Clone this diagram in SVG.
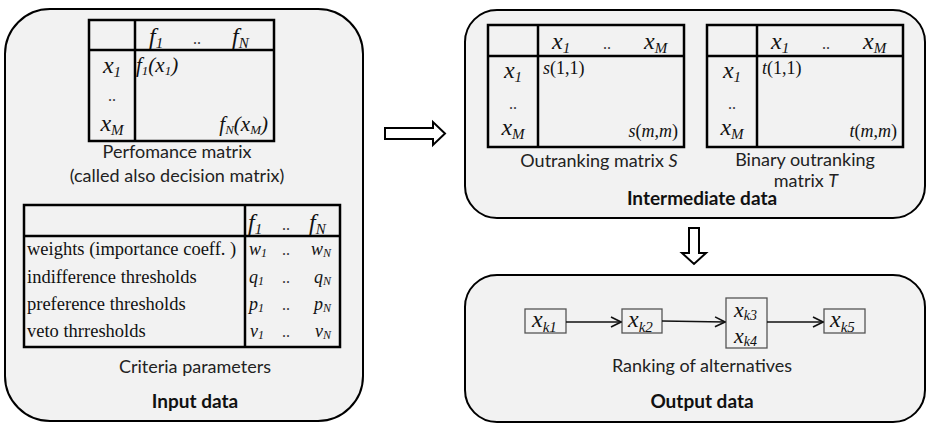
<svg xmlns="http://www.w3.org/2000/svg" width="927" height="425" viewBox="0 0 927 425">
  <style>
    .panel { fill: #f2f2f2; stroke: #000; stroke-width: 2; }
    .grid { fill: none; stroke: #000; stroke-width: 2.5; }
    .rank { fill: #f2f2f2; stroke: #555; stroke-width: 1.3; }
    .block { fill: #fff; stroke: #000; stroke-width: 2; stroke-linejoin: miter; }
    .link { fill: none; stroke: #111; stroke-width: 1.6; }
    .m { font-family: "Liberation Serif", "Times New Roman", serif; font-style: italic; font-size: 24px; fill: #111; }
    .mr { font-family: "Liberation Serif", "Times New Roman", serif; font-size: 18px; fill: #111; }
    .dots { font-family: "Liberation Serif", "Times New Roman", serif; font-size: 16px; fill: #333; }
    .row { font-family: "Liberation Serif", "Times New Roman", serif; font-size: 18.5px; fill: #111; }
    .sub { font-size: 15px; }
    .fx { font-size: 21px; }
    .fxs { font-size: 13px; }
    .pair { font-size: 22px; }
    .pairs { font-size: 14px; }
    .cap { font-family: Lato, "Liberation Sans", sans-serif; font-size: 18px; fill: #222; text-anchor: middle; }
    .title { font-family: Lato, "Liberation Sans", sans-serif; font-size: 19px; font-weight: bold; fill: #111; text-anchor: middle; }
    .mid { text-anchor: middle; }
    .end { text-anchor: end; }
  </style>
  <defs>
    <marker id="chev" viewBox="0 0 12 12" refX="11" refY="6" markerWidth="12" markerHeight="12" markerUnits="userSpaceOnUse" orient="auto">
      <path d="M1,1 L11,6 L1,11" fill="none" stroke="#111" stroke-width="1.6"/>
    </marker>
  </defs>

  <!-- Input data panel -->
  <g id="input-data">
    <rect class="panel" x="5" y="9" width="358" height="412" rx="45" ry="45"/>

    <!-- performance matrix -->
    <g id="performance-matrix">
      <rect class="grid" x="89" y="20" width="185" height="121"/>
      <line class="grid" x1="135" y1="20" x2="135" y2="141"/>
      <line class="grid" x1="89" y1="50" x2="274" y2="50"/>
      <text class="m" x="149" y="44">f<tspan class="sub" dy="4">1</tspan></text>
      <text class="dots" x="193" y="44">..</text>
      <text class="m" x="232" y="44">f<tspan class="sub" dy="4">N</tspan></text>
      <text class="m mid" x="112" y="73">x<tspan class="sub" dy="4">1</tspan></text>
      <text class="dots mid" x="112" y="101">..</text>
      <text class="m mid" x="112" y="131">x<tspan class="sub" dy="4">M</tspan></text>
      <text class="m fx" x="136" y="72">f<tspan class="fxs" dy="3">1</tspan><tspan dy="-3">(x</tspan><tspan class="fxs" dy="3">1</tspan><tspan dy="-3">)</tspan></text>
      <text class="m fx end" x="268" y="131">f<tspan class="fxs" dy="3">N</tspan><tspan dy="-3">(x</tspan><tspan class="fxs" dy="3">M</tspan><tspan dy="-3">)</tspan></text>
      <text class="cap" x="177" y="158">Perfomance matrix</text>
      <text class="cap" x="177" y="182">(called also decision matrix)</text>
    </g>

    <!-- criteria parameters -->
    <g id="criteria-parameters">
      <rect class="grid" x="24" y="205" width="316" height="142"/>
      <line class="grid" x1="245" y1="205" x2="245" y2="347"/>
      <line class="grid" x1="24" y1="236" x2="340" y2="236"/>
      <text class="m" x="248" y="230">f<tspan class="sub" dy="4">1</tspan></text>
      <text class="dots" x="282" y="230">..</text>
      <text class="m" x="309" y="230">f<tspan class="sub" dy="4">N</tspan></text>
      <text class="row" x="27" y="255">weights (importance coeff. )</text>
      <text class="row" x="27" y="283">indifference thresholds</text>
      <text class="row" x="27" y="310">preference thresholds</text>
      <text class="row" x="27" y="337">veto thrresholds</text>
      <g class="m" style="font-size:18px">
        <text x="249" y="255">w<tspan class="sub" style="font-size:12px" dy="2">1</tspan></text>
        <text x="249" y="283">q<tspan class="sub" style="font-size:12px" dy="2">1</tspan></text>
        <text x="249" y="310">p<tspan class="sub" style="font-size:12px" dy="2">1</tspan></text>
        <text x="250" y="337">v<tspan class="sub" style="font-size:12px" dy="2">1</tspan></text>
        <text class="end" x="331" y="255">w<tspan class="sub" style="font-size:12px" dy="2">N</tspan></text>
        <text class="end" x="331" y="283">q<tspan class="sub" style="font-size:12px" dy="2">N</tspan></text>
        <text class="end" x="331" y="310">p<tspan class="sub" style="font-size:12px" dy="2">N</tspan></text>
        <text class="end" x="331" y="337">v<tspan class="sub" style="font-size:12px" dy="2">N</tspan></text>
      </g>
      <text class="dots" x="282" y="255">..</text>
      <text class="dots" x="282" y="283">..</text>
      <text class="dots" x="282" y="310">..</text>
      <text class="dots" x="282" y="337">..</text>
      <text class="cap" x="195" y="373">Criteria parameters</text>
    </g>
    <text class="title" x="195" y="408">Input data</text>
  </g>

  <!-- Intermediate data panel -->
  <g id="intermediate-data">
    <rect class="panel" x="465" y="10" width="460" height="208" rx="32" ry="32"/>

    <g id="outranking-matrix-s">
      <rect class="grid" x="488" y="25" width="196" height="122"/>
      <line class="grid" x1="538" y1="25" x2="538" y2="147"/>
      <line class="grid" x1="488" y1="56" x2="684" y2="56"/>
      <text class="m" x="552" y="49">x<tspan class="sub" dy="4">1</tspan></text>
      <text class="dots" x="603" y="49">..</text>
      <text class="m" x="644" y="49">x<tspan class="sub" dy="4">M</tspan></text>
      <text class="m mid" x="513" y="78">x<tspan class="sub" dy="4">1</tspan></text>
      <text class="dots mid" x="513" y="109">..</text>
      <text class="m mid" x="513" y="135">x<tspan class="sub" dy="4">M</tspan></text>
      <text class="mr" x="543" y="74"><tspan font-style="italic">s</tspan>(1,1)</text>
      <text class="mr end" x="678" y="137"><tspan font-style="italic">s</tspan>(<tspan font-style="italic">m</tspan>,<tspan font-style="italic">m</tspan>)</text>
      <text class="cap" x="599" y="167">Outranking matrix <tspan font-style="italic">S</tspan></text>
    </g>

    <g id="binary-outranking-matrix-t">
      <rect class="grid" x="707" y="25" width="196" height="122"/>
      <line class="grid" x1="757" y1="25" x2="757" y2="147"/>
      <line class="grid" x1="707" y1="56" x2="903" y2="56"/>
      <text class="m" x="771" y="49">x<tspan class="sub" dy="4">1</tspan></text>
      <text class="dots" x="822" y="49">..</text>
      <text class="m" x="863" y="49">x<tspan class="sub" dy="4">M</tspan></text>
      <text class="m mid" x="732" y="78">x<tspan class="sub" dy="4">1</tspan></text>
      <text class="dots mid" x="732" y="109">..</text>
      <text class="m mid" x="732" y="135">x<tspan class="sub" dy="4">M</tspan></text>
      <text class="mr" x="762" y="74"><tspan font-style="italic">t</tspan>(1,1)</text>
      <text class="mr end" x="897" y="137"><tspan font-style="italic">t</tspan>(<tspan font-style="italic">m</tspan>,<tspan font-style="italic">m</tspan>)</text>
      <text class="cap" x="805" y="166">Binary outranking</text>
      <text class="cap" x="806" y="187">matrix <tspan font-style="italic">T</tspan></text>
    </g>
    <text class="title" x="702" y="205">Intermediate data</text>
  </g>

  <!-- Output data panel -->
  <g id="output-data">
    <rect class="panel" x="465" y="275" width="460" height="147" rx="32" ry="32"/>
    <g id="rank-xk1">
      <rect class="rank" x="525" y="309" width="41" height="24"/>
      <text class="m" x="532" y="327">x<tspan class="sub" dy="5">k1</tspan></text>
    </g>
    <g id="rank-xk2">
      <rect class="rank" x="622" y="309" width="40" height="24"/>
      <text class="m" x="628" y="327">x<tspan class="sub" dy="5">k2</tspan></text>
    </g>
    <g id="rank-xk3-xk4">
      <rect class="rank" x="726" y="298" width="41" height="50"/>
      <text class="m pair" x="734" y="317">x<tspan class="pairs" dy="3">k3</tspan></text>
      <text class="m pair" x="734" y="343">x<tspan class="pairs" dy="3">k4</tspan></text>
    </g>
    <g id="rank-xk5">
      <rect class="rank" x="824" y="309" width="41" height="24"/>
      <text class="m" x="830" y="327">x<tspan class="sub" dy="5">k5</tspan></text>
    </g>
    <text class="cap" x="702" y="372">Ranking of alternatives</text>
    <text class="title" x="702" y="408">Output data</text>
  </g>

  <!-- Connectors -->
  <g id="connectors">
    <line class="link" x1="566" y1="322" x2="621" y2="322" marker-end="url(#chev)"/>
    <line class="link" x1="662" y1="321" x2="725" y2="322" marker-end="url(#chev)"/>
    <line class="link" x1="767" y1="322" x2="823" y2="322" marker-end="url(#chev)"/>
    <polygon class="block" points="385,128 433,128 433,122 445,133.5 433,145 433,139 385,139"/>
    <polygon class="block" points="689,228 699,228 699,253 706,253 694,264 682,253 689,253"/>
  </g>
</svg>
